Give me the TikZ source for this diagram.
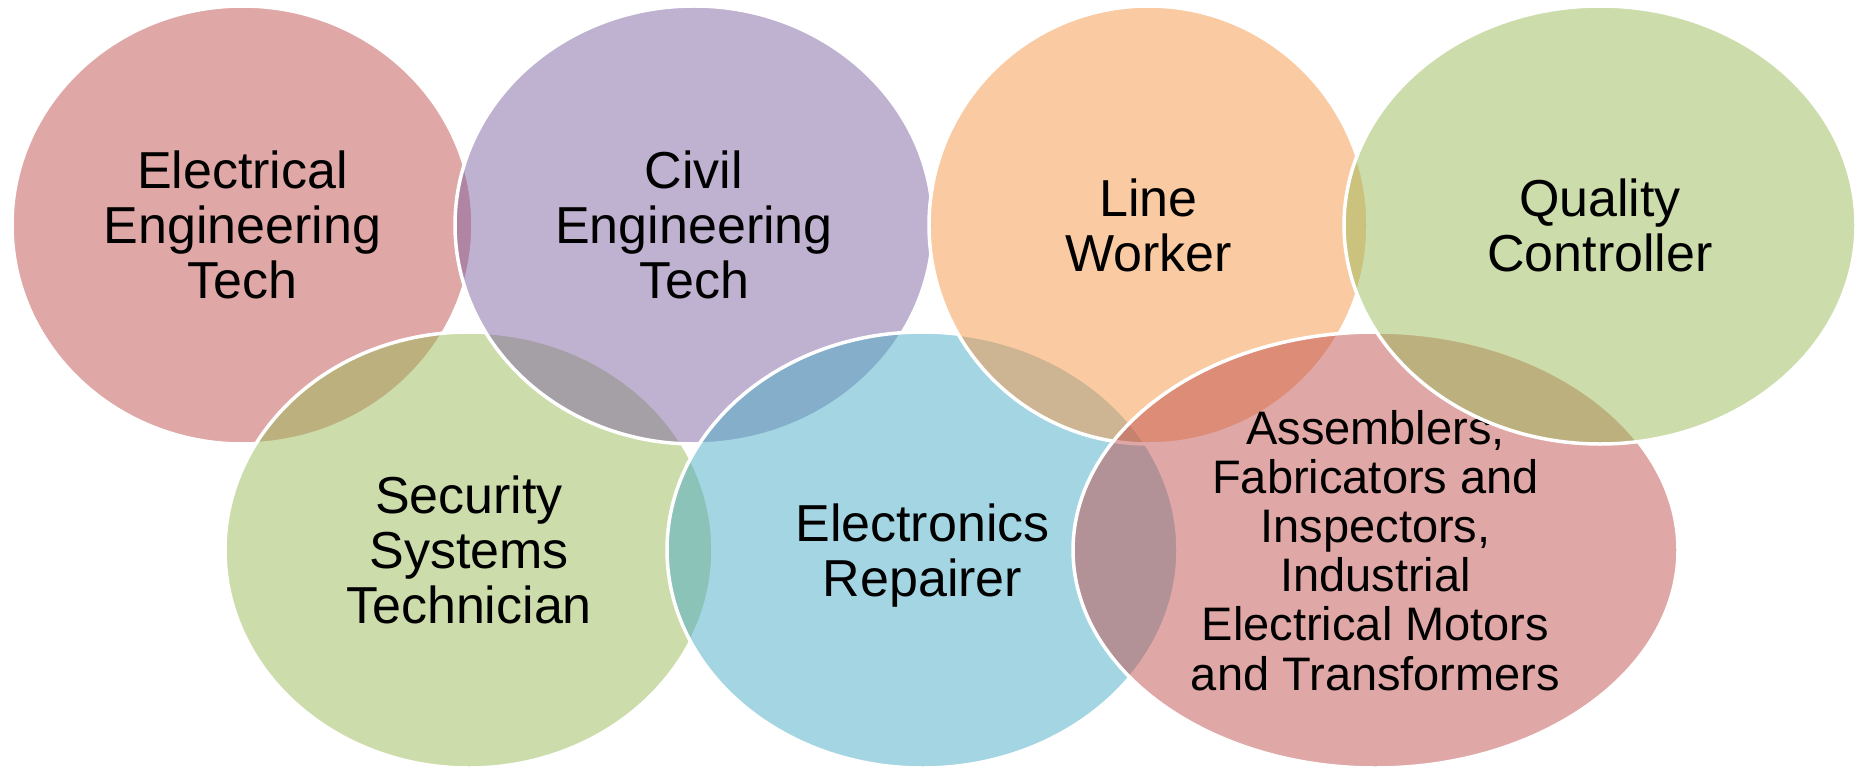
\documentclass[tikz,border=0pt]{standalone}
\usepackage{fontspec}
\setmainfont{Liberation Sans}
\usetikzlibrary{shapes.geometric}
\definecolor{cred}{HTML}{C0504D}
\definecolor{cgreen}{HTML}{9BBB59}
\definecolor{cpurple}{HTML}{8064A2}
\definecolor{cblue}{HTML}{4BACC6}
\definecolor{corange}{HTML}{F79646}
\begin{document}
\begin{tikzpicture}[x=1pt,y=-1pt,
  venn/.style={ellipse, draw=white, line width=3.5pt, fill opacity=0.5,
    draw opacity=1, text opacity=1, inner sep=0pt, align=center,
    text depth=0pt, font=\fontsize{52}{55}\selectfont},
  toprow/.style={venn, minimum height=438pt},
  botrow/.style={venn, minimum height=436pt}]
\fill[white] (0,0) rectangle (1857,770);
\useasboundingbox (0,0) rectangle (1857,770);
\node[toprow, fill=cred, minimum width=461pt] (e) at (242.5,225) {Electrical\\Engineering\\Tech};
\node[botrow, fill=cgreen, minimum width=488pt] (s) at (469,550) {Security\\Systems\\Technician};
\node[toprow, fill=cpurple, minimum width=478pt] (c) at (694,225) {Civil\\Engineering\\Tech};
\node[botrow, fill=cblue, minimum width=511pt] (r) at (922.5,550) {Electronics\\Repairer};
\node[toprow, fill=corange, minimum width=439pt] (l) at (1148.5,225) {Line\\Worker};
\node[botrow, fill=cred, minimum width=605pt, font=\fontsize{47}{49.2}\selectfont] (a) at (1375.5,550) {Assemblers,\\Fabricators and\\Inspectors,\\Industrial\\Electrical Motors\\and Transformers};
\node[toprow, fill=cgreen, minimum width=512pt] (q) at (1600,225) {Quality\\Controller};
\end{tikzpicture}
\end{document}
